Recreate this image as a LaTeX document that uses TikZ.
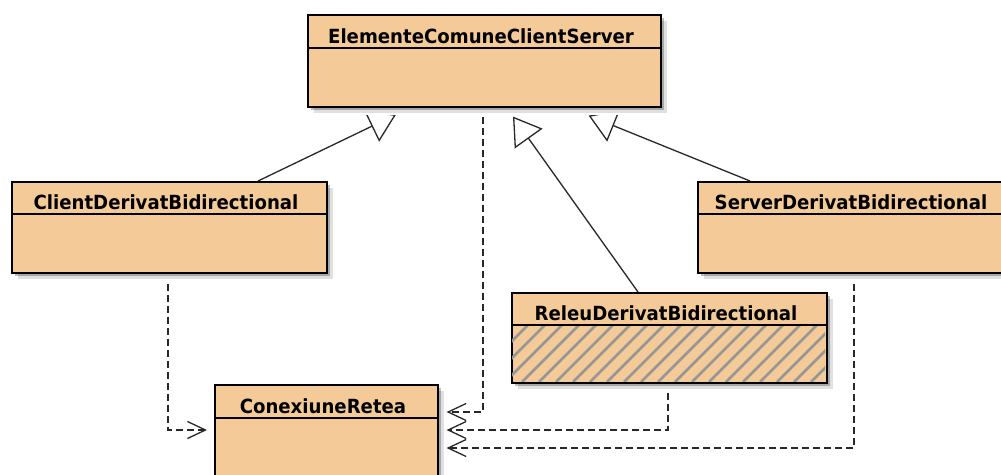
\documentclass[tikz,border=0pt]{standalone}
\usepackage{fontspec}
\newfontfamily\umlfont[FakeStretch=0.93]{DejaVu Sans}
\usetikzlibrary{arrows.meta,shadows,calc}
\definecolor{classfill}{RGB}{244,203,152}
\definecolor{hatchgray}{RGB}{150,150,150}
\definecolor{linegray}{RGB}{40,40,40}
\begin{document}
\begin{tikzpicture}[x=1pt,y=-1pt,
  classbox/.style={draw=black, line width=1.6pt, fill=classfill, anchor=north west, inner sep=0pt,
    drop shadow={shadow xshift=6pt, shadow yshift=-6pt, opacity=0.12, fill=black},
    drop shadow={shadow xshift=3.5pt, shadow yshift=-3.5pt, opacity=0.25, fill=black}},
  classtitle/.style={font=\umlfont\bfseries\fontsize{19.5pt}{21pt}\selectfont, anchor=base, inner sep=0pt},
  divider/.style={line width=1.4pt, draw=black},
  gen/.style={line width=1.3pt, draw=linegray, -{Triangle[open, length=27pt, width=34pt, line width=1.3pt]}},
  dep/.style={line width=1.3pt, draw=linegray, dash pattern=on 7pt off 4pt, -{Straight Barb[length=18pt, width=17pt, line width=1.3pt]}},
]
\path[use as bounding box, fill=white] (0,0) rectangle (1001,474);
\clip (0,0) rectangle (1001,474);

% classes
\node[classbox, minimum width=353pt, minimum height=92pt] (ecs) at (307,14) {};
\draw[divider] ([yshift=-34pt]ecs.north west) -- ([yshift=-34pt]ecs.north east);
\node[classtitle] (ecs-t) at (481,43) {ElementeComuneClientServer};

\node[classbox, minimum width=315pt, minimum height=91pt] (client) at (11,181) {};
\draw[divider] ([yshift=-33pt]client.north west) -- ([yshift=-33pt]client.north east);
\node[classtitle] (client-t) at (166,209) {ClientDerivatBidirectional};

\node[classbox, minimum width=315pt, minimum height=91pt] (server) at (697,181) {};
\draw[divider] ([yshift=-33pt]server.north west) -- ([yshift=-33pt]server.north east);
\node[classtitle] (server-t) at (851,209) {ServerDerivatBidirectional};

\node[classbox, minimum width=315pt, minimum height=90pt] (releu) at (511,292) {};
\begin{scope}
  \clip (512,326) rectangle (825,381);
  \foreach \x in {437,454,...,850} \draw[hatchgray, line width=2.6pt] (\x,382) -- (\x+57,325);
\end{scope}
\draw[divider] ([yshift=-33pt]releu.north west) -- ([yshift=-33pt]releu.north east);
\node[classtitle] (releu-t) at (666,320) {ReleuDerivatBidirectional};

\node[classbox, minimum width=223pt, minimum height=92pt] (conex) at (214,384) {};
\draw[divider] ([yshift=-34pt]conex.north west) -- ([yshift=-34pt]conex.north east);
\node[classtitle] (conex-t) at (323,413) {ConexiuneRetea};

% generalizations (side ones partly hidden by the shadow of the superclass)
\coordinate (g1) at ([xshift=89pt,yshift=-7pt]ecs.south west);
\coordinate (g2) at ([xshift=281.6pt,yshift=-8pt]ecs.south west);
\coordinate (g3) at ([xshift=206pt,yshift=-9pt]ecs.south west);
\begin{scope}
  \clip (0,115.5) rectangle (1001,474);
  \draw[gen] ([xshift=247pt]client.north west) -- (g1);
  \draw[gen] ([xshift=53pt]server.north west) -- (g2);
\end{scope}
\draw[gen] ([xshift=127pt]releu.north west) -- (g3);

% dependencies
\draw[dep] ([xshift=176pt,yshift=-9pt]ecs.south west) |- ([xshift=8pt,yshift=-28pt]conex.north east);
\draw[dep] ([xshift=157pt,yshift=-10pt]client.south west) |- ([xshift=-7pt,yshift=-46pt]conex.north west);
\draw[dep] ([xshift=157pt,yshift=-9pt]releu.south west) |- ([xshift=8pt,yshift=-46pt]conex.north east);
\draw[dep] ([xshift=157pt,yshift=-10pt]server.south west) |- ([xshift=8pt,yshift=-64pt]conex.north east);
\end{tikzpicture}
\end{document}
